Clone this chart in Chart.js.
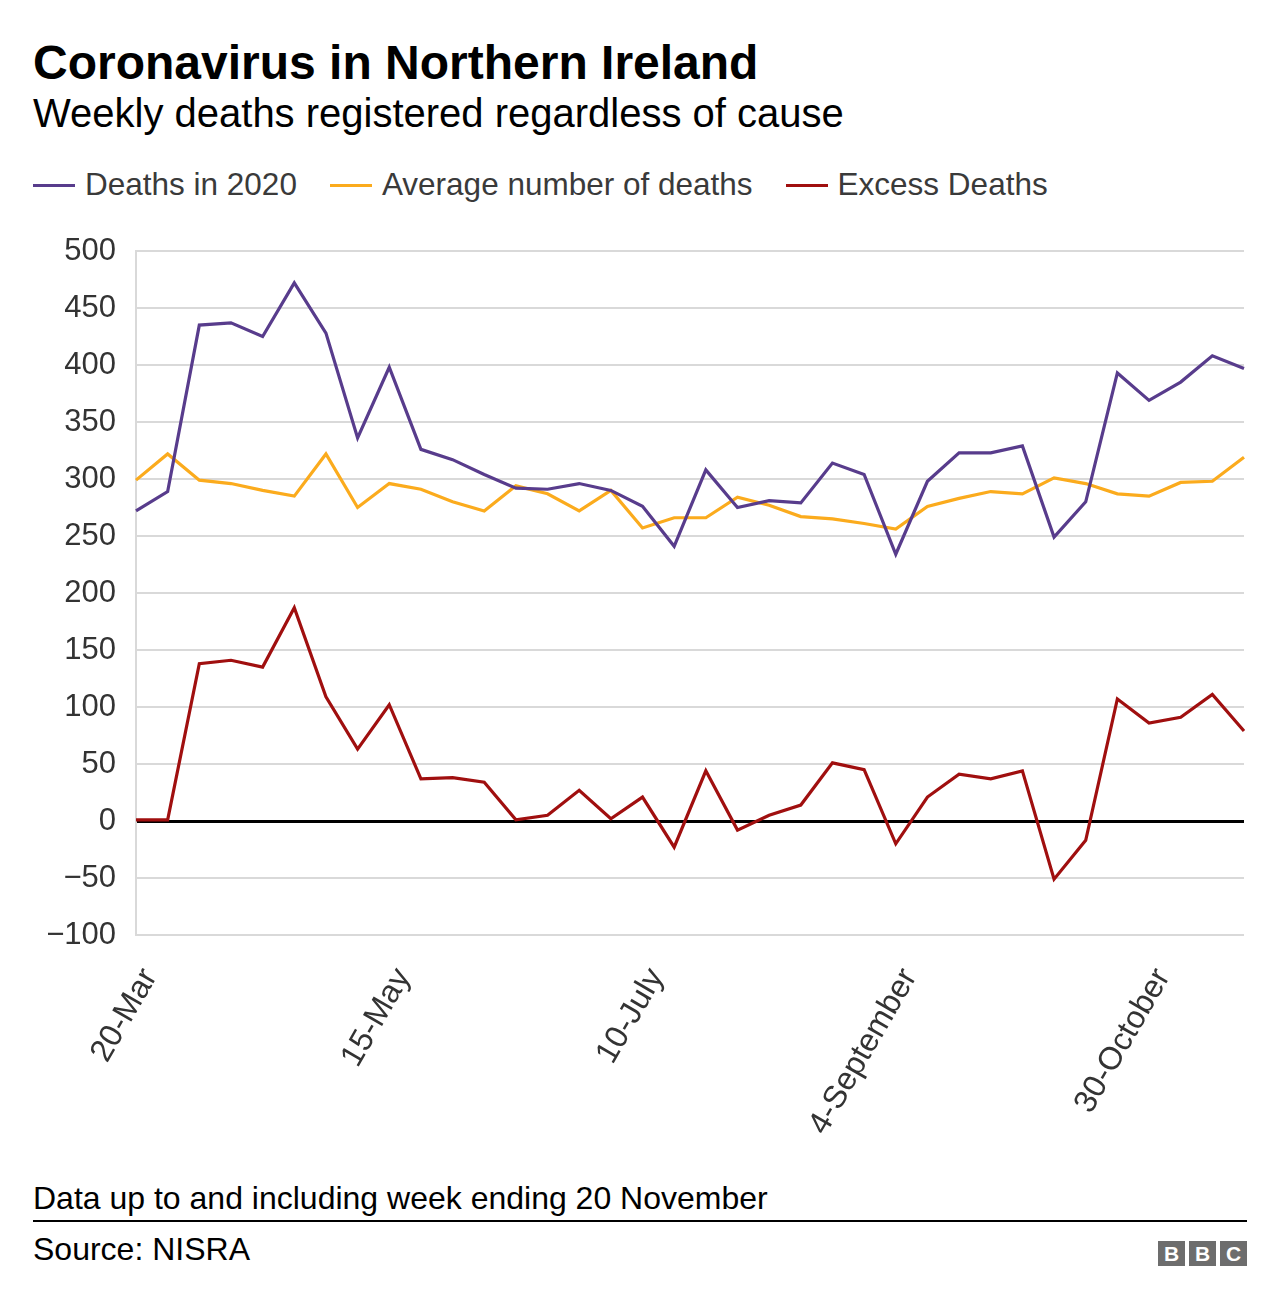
<!DOCTYPE html>
<html>
<head>
<meta charset="utf-8">
<script src="https://cdn.jsdelivr.net/npm/chart.js@4"></script>
<style>
  body { margin: 0; background: #fff; font-family: "Liberation Sans", Arial, Helvetica, sans-serif; }
  #page { position: relative; width: 1280px; height: 1308px; overflow: hidden; }
  .t { position: absolute; left: 33px; white-space: nowrap; color: #000; }
  #title { top: 39px; font-size: 48px; line-height: 48px; font-weight: bold; }
  #sub { top: 93px; font-size: 40px; line-height: 40px; }
  #legend { position: absolute; left: 33px; top: 166px; height: 38px; display: flex; align-items: center; font-size: 31.5px; line-height: 31.5px; color: #3a3a3a; white-space: nowrap; }
  .li { display: flex; align-items: center; margin-right: 33px; }
  .sw { width: 42px; height: 3px; margin-right: 10px; }
  #wrap { position: absolute; left: 0; top: 230px; width: 1280px; height: 930px; }
  #note { top: 1182px; font-size: 32px; line-height: 32px; }
  #rule { position: absolute; left: 33px; top: 1220px; width: 1214px; height: 2px; background: #000; }
  #src { top: 1233px; font-size: 32px; line-height: 32px; }
  #bbc { position: absolute; left: 1158px; top: 1241px; display: flex; gap: 4px; }
  .bb { width: 27px; height: 25px; background: #6d6d6d; color: #fff; font-weight: bold; font-size: 21px; line-height: 25px; text-align: center; }
</style>
</head>
<body>
<div id="page">
  <div class="t" id="title">Coronavirus in Northern Ireland</div>
  <div class="t" id="sub">Weekly deaths registered regardless of cause</div>
  <div id="legend"></div>
  <div id="wrap"><canvas id="c"></canvas></div>
  <div class="t" id="note">Data up to and including week ending 20 November</div>
  <div id="rule"></div>
  <div class="t" id="src">Source: NISRA</div>
  <div id="bbc"><div class="bb">B</div><div class="bb">B</div><div class="bb">C</div></div>
</div>
<script>
const weeks = ["20-Mar","27-Mar","3-Apr","10-Apr","17-Apr","24-Apr","1-May","8-May","15-May","22-May","29-May","5-June","12-June","19-June","26-June","3-July","10-July","17-July","24-July","31-July","7-August","14-August","21-August","28-August","4-September","11-September","18-September","25-September","2-October","9-October","16-October","23-October","30-October","6-November","13-November","20-November"];
const tickLabels = ["20-Mar","15-May","10-July","4-September","30-October"];
const seriesNames = ["Deaths in 2020","Average number of deaths","Excess Deaths"];
const deaths2020 = [272,289,435,437,425,472,428,336,398,326,317,304,292,291,296,290,276,241,308,275,281,279,314,304,234,298,323,323,329,249,280,393,369,385,408,397];
const averageDeaths = [299,322,299,296,290,285,322,275,296,291,280,272,294,287,272,290,257,266,266,284,277,267,265,261,256,276,283,289,287,301,296,287,285,297,298,319];
const excessDeaths = [1,1,138,141,135,187,109,63,102,37,38,34,1,5,27,2,21,-23,44,-8,5,14,51,45,-20,21,41,37,44,-51,-17,107,86,91,111,79];
const yTicks = { min: -100, max: 500, step: 50 };

const colors = ["#583c8c", "#fbab1d", "#a00f0f"];
const seriesValues = [deaths2020, averageDeaths, excessDeaths];

// HTML legend
const leg = document.getElementById('legend');
seriesNames.forEach((n, i) => {
  const item = document.createElement('div'); item.className = 'li';
  const sw = document.createElement('div'); sw.className = 'sw'; sw.style.background = colors[i];
  const tx = document.createElement('span'); tx.textContent = n;
  item.appendChild(sw); item.appendChild(tx); leg.appendChild(item);
});

new Chart(document.getElementById('c'), {
  type: 'line',
  data: {
    labels: weeks,
    datasets: seriesNames.map((n, i) => ({
      label: n,
      data: seriesValues[i],
      borderColor: colors[i],
      backgroundColor: colors[i],
      borderWidth: 3.2,
      pointRadius: 0,
      tension: 0,
      fill: false
    }))
  },
  options: {
    responsive: true,
    maintainAspectRatio: false,
    animation: false,
    layout: { padding: { top: 21, right: 36, left: 0, bottom: 0 } },
    plugins: { legend: { display: false }, tooltip: { enabled: false } },
    scales: {
      x: {
        grid: { display: false },
        border: { display: false },
        ticks: {
          autoSkip: false, minRotation: 60, maxRotation: 60, padding: 19, labelOffset: 14,
          color: '#333', font: { size: 32, family: '"Liberation Sans", Arial, sans-serif' },
          callback: function (v, i) { const l = this.getLabelForValue(v); return tickLabels.includes(l) ? l : ''; }
        },
        afterFit: s => { s.height = 225; s.paddingLeft = 0; s.paddingRight = 0; s.paddingTop = 0; s.paddingBottom = 0; }
      },
      y: {
        min: yTicks.min, max: yTicks.max,
        ticks: {
          stepSize: yTicks.step, padding: 20, color: '#333',
          font: { size: 31, family: '"Liberation Sans", Arial, sans-serif' },
          callback: v => v < 0 ? '\u2212' + Math.abs(v) : String(v)
        },
        grid: {
          drawTicks: false,
          color: c => c.tick && c.tick.value === 0 ? '#000' : '#d9d9d9',
          lineWidth: c => c.tick && c.tick.value === 0 ? 3 : 2
        },
        border: { display: true, color: '#d9d9d9', width: 2 },
        afterFit: s => { s.width = 136; s.paddingTop = 0; s.paddingBottom = 0; s.paddingLeft = 0; s.paddingRight = 0; }
      }
    }
  }
});
</script>
</body>
</html>
